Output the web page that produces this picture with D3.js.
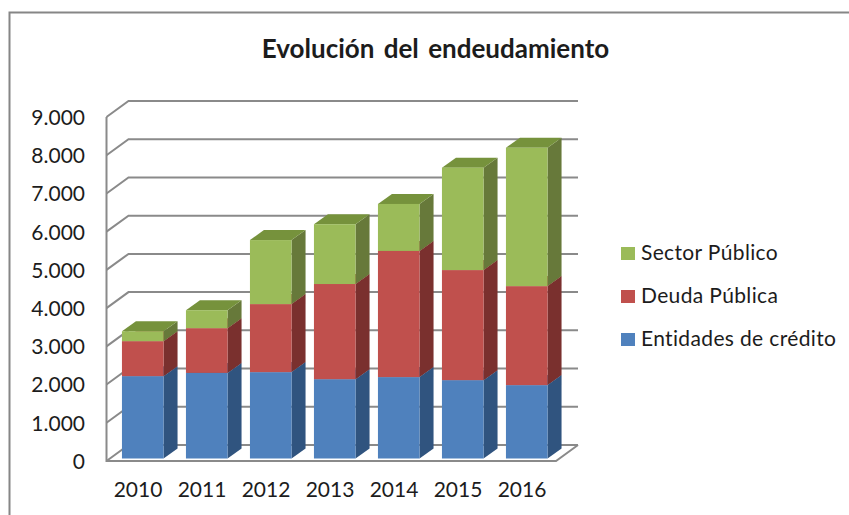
<!DOCTYPE html>
<html>
<head>
<meta charset="utf-8">
<script src="https://cdn.jsdelivr.net/npm/d3@7"></script>
<style>
html, body { margin: 0; padding: 0; background: #fff; overflow: hidden; }
svg { display: block; }
text { font-family: Lato, "Open Sans", sans-serif; fill: #1c1c1c; }
</style>
</head>
<body>
<svg id="chart" width="849" height="515"></svg>
<script>
// Data
var years = ["2010", "2011", "2012", "2013", "2014", "2015", "2016"];
var entidades = [2155, 2240, 2260, 2075, 2130, 2050, 1920];
var deuda = [915, 1170, 1780, 2490, 3300, 2880, 2590];
var sector = [260, 470, 1675, 1565, 1230, 2680, 3620];
var yTicks = [0, 1000, 2000, 3000, 4000, 5000, 6000, 7000, 8000, 9000];

var seriesNames = ["Entidades de crédito", "Deuda Pública", "Sector Público"];
var seriesValues = [entidades, deuda, sector];
var fronts = ["#4f81bd", "#c0504d", "#9bbb59"];
var sides = ["#30547f", "#7a302e", "#67793a"];
var tops = ["#3d6797", "#993d3a", "#76923c"];

// Wall and bar geometry
var wallDx = 22, wallDy = -16;
var barDx = 14, barDy = -10, barX = 4.75, barY = -2.5;
var gridColor = "#8a8a8a";

var svg = d3.select("#chart");
var x = d3.scaleBand().domain(years).range([106, 554]).paddingInner(0.35).paddingOuter(0.175);
var y = d3.scaleLinear().domain([0, 9000]).range([461, 117]);

// Chart frame
svg.append("path").attr("d", "M9.5,515V12.5H849").attr("fill", "none")
    .attr("stroke", "#868686").attr("stroke-width", 2);

svg.append("text").attr("x", 435.5).attr("y", 58).attr("text-anchor", "middle")
    .attr("font-size", 26).attr("font-weight", 700).style("word-spacing", "3px")
    .text("Evolución del endeudamiento");

// Back wall grid with the diagonal along the side wall
var grid = svg.append("g").attr("fill", "none").attr("stroke", gridColor).attr("stroke-width", 2);
grid.selectAll("path").data(yTicks).join("path")
    .attr("d", function (d) {
        return d3.line()([[106.5, y(d)], [106.5 + wallDx, y(d) + wallDy], [578, y(d) + wallDy]]);
    });

// Floor edges and front axis
grid.append("path").attr("d", d3.line()([[106.5, y(9000)], [106.5, y(0)], [556, y(0)], [578, y(0) + wallDy]]));

// Tick labels
var yAxis = d3.axisLeft(y).tickValues(yTicks).tickSize(0).tickPadding(0)
    .tickFormat(function (d) { return d3.format(",")(d).replace(",", "."); });
var yG = svg.append("g").attr("transform", "translate(85,0)").call(yAxis);
yG.select(".domain").remove();
yG.selectAll("text").attr("font-size", 21).attr("dy", "0.35em");

var xAxis = d3.axisBottom(x).tickSize(0).tickPadding(0);
var xG = svg.append("g").attr("transform", "translate(0,480)").call(xAxis);
xG.select(".domain").remove();
xG.selectAll("text").attr("font-size", 21).attr("dy", "0.8em");

// 3D stacked bars, lowest segment first
var stacked = d3.stack().keys(d3.range(3)).value(function (row, k) { return seriesValues[k][row]; })(d3.range(years.length));

years.forEach(function (year, i) {
    var bar = svg.append("g").attr("class", "bar");
    var x0 = x(year) + barX, x1 = x0 + x.bandwidth();
    stacked.forEach(function (layer, k) {
        var y0 = y(layer[i][0]) + barY, y1 = y(layer[i][1]) + barY;
        bar.append("path").attr("fill", sides[k])
            .attr("d", d3.line()([[x1, y0], [x1 + barDx, y0 + barDy], [x1 + barDx, y1 + barDy], [x1, y1]]) + "Z");
        bar.append("path").attr("fill", tops[k])
            .attr("d", d3.line()([[x0, y1], [x0 + barDx, y1 + barDy], [x1 + barDx, y1 + barDy], [x1, y1]]) + "Z");
        bar.append("rect").attr("fill", fronts[k])
            .attr("x", x0).attr("y", y1).attr("width", x.bandwidth()).attr("height", y0 - y1);
    });
});

// Legend, top entry is the top series
var legend = svg.append("g").selectAll("g").data(d3.range(3).reverse()).join("g")
    .attr("transform", function (d, i) { return "translate(621," + (247 + i * 43) + ")"; });
legend.append("rect").attr("width", 14).attr("height", 13).attr("fill", function (d) { return fronts[d]; });
legend.append("text").attr("x", 20).attr("y", 13).attr("font-size", 21)
    .style("letter-spacing", "0.35px")
    .text(function (d) { return seriesNames[d]; });
</script>
</body>
</html>
